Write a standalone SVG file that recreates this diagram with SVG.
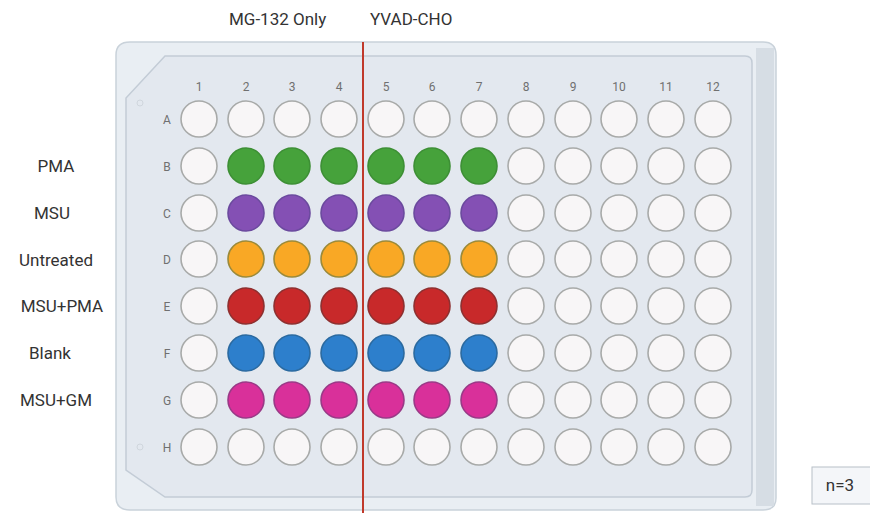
<svg xmlns="http://www.w3.org/2000/svg" width="870" height="513" viewBox="0 0 870 513">
<style>
.lbl{font-family:Roboto,"Liberation Sans",sans-serif;font-size:17px;fill:#333}
.idx{font-family:Roboto,"Liberation Sans",sans-serif;font-size:12px;fill:#707070;text-anchor:middle}
.w{fill:#f8f6f7;stroke:#a8aaa9;stroke-width:1.6}
.g{fill:#46a23b;stroke:#3d8f35;stroke-width:1.6}
.p{fill:#8450b4;stroke:#6b4a9e;stroke-width:1.6}
.o{fill:#f9a825;stroke:#9b8a3a;stroke-width:1.6}
.r{fill:#c8292a;stroke:#8e3030;stroke-width:1.6}
.b{fill:#2d7fcc;stroke:#2b6aa0;stroke-width:1.6}
.m{fill:#d9309a;stroke:#9a3a87;stroke-width:1.6}
</style>
<rect width="870" height="513" fill="#ffffff"/>
<g id="plate">
<path d="M130,42 H763 Q776,42 776,55 V498 Q776,510 763,510 H130 Q116,510 116,497 V55 Q116,42 130,42 Z" fill="#e9eef3" stroke="#c9d2da" stroke-width="1.5"/>
<rect x="756" y="48" width="18" height="458" fill="#d6dde4"/>
<path d="M165,56 H745 Q752,56 752,63 V490 Q752,497 745,497 H165 L126,470 V98 Z" fill="#e3e8ef" stroke="#c3ccd6" stroke-width="1.5"/>
<circle cx="140" cy="103" r="3" fill="none" stroke="#d0d6dd"/>
<circle cx="140" cy="447" r="3" fill="none" stroke="#d0d6dd"/>
</g>
<g id="col-labels">
<text class="idx" x="199" y="91">1</text><text class="idx" x="246" y="91">2</text><text class="idx" x="292" y="91">3</text><text class="idx" x="339" y="91">4</text><text class="idx" x="386" y="91">5</text><text class="idx" x="432" y="91">6</text><text class="idx" x="479" y="91">7</text><text class="idx" x="526" y="91">8</text><text class="idx" x="573" y="91">9</text><text class="idx" x="619" y="91">10</text><text class="idx" x="666" y="91">11</text><text class="idx" x="713" y="91">12</text>
</g>
<g id="row-labels">
<text class="idx" x="167" y="124">A</text><text class="idx" x="167" y="171">B</text><text class="idx" x="167" y="218">C</text><text class="idx" x="167" y="264">D</text><text class="idx" x="167" y="311">E</text><text class="idx" x="167" y="358">F</text><text class="idx" x="167" y="405">G</text><text class="idx" x="167" y="452">H</text>
</g>
<g id="wells">
<g id="row-A"><circle class="w" cx="199" cy="119" r="18"/><circle class="w" cx="246" cy="119" r="18"/><circle class="w" cx="292" cy="119" r="18"/><circle class="w" cx="339" cy="119" r="18"/><circle class="w" cx="386" cy="119" r="18"/><circle class="w" cx="432" cy="119" r="18"/><circle class="w" cx="479" cy="119" r="18"/><circle class="w" cx="526" cy="119" r="18"/><circle class="w" cx="573" cy="119" r="18"/><circle class="w" cx="619" cy="119" r="18"/><circle class="w" cx="666" cy="119" r="18"/><circle class="w" cx="713" cy="119" r="18"/></g>
<g id="row-B"><circle class="w" cx="199" cy="166" r="18"/><circle class="g" cx="246" cy="166" r="18"/><circle class="g" cx="292" cy="166" r="18"/><circle class="g" cx="339" cy="166" r="18"/><circle class="g" cx="386" cy="166" r="18"/><circle class="g" cx="432" cy="166" r="18"/><circle class="g" cx="479" cy="166" r="18"/><circle class="w" cx="526" cy="166" r="18"/><circle class="w" cx="573" cy="166" r="18"/><circle class="w" cx="619" cy="166" r="18"/><circle class="w" cx="666" cy="166" r="18"/><circle class="w" cx="713" cy="166" r="18"/></g>
<g id="row-C"><circle class="w" cx="199" cy="213" r="18"/><circle class="p" cx="246" cy="213" r="18"/><circle class="p" cx="292" cy="213" r="18"/><circle class="p" cx="339" cy="213" r="18"/><circle class="p" cx="386" cy="213" r="18"/><circle class="p" cx="432" cy="213" r="18"/><circle class="p" cx="479" cy="213" r="18"/><circle class="w" cx="526" cy="213" r="18"/><circle class="w" cx="573" cy="213" r="18"/><circle class="w" cx="619" cy="213" r="18"/><circle class="w" cx="666" cy="213" r="18"/><circle class="w" cx="713" cy="213" r="18"/></g>
<g id="row-D"><circle class="w" cx="199" cy="259" r="18"/><circle class="o" cx="246" cy="259" r="18"/><circle class="o" cx="292" cy="259" r="18"/><circle class="o" cx="339" cy="259" r="18"/><circle class="o" cx="386" cy="259" r="18"/><circle class="o" cx="432" cy="259" r="18"/><circle class="o" cx="479" cy="259" r="18"/><circle class="w" cx="526" cy="259" r="18"/><circle class="w" cx="573" cy="259" r="18"/><circle class="w" cx="619" cy="259" r="18"/><circle class="w" cx="666" cy="259" r="18"/><circle class="w" cx="713" cy="259" r="18"/></g>
<g id="row-E"><circle class="w" cx="199" cy="306" r="18"/><circle class="r" cx="246" cy="306" r="18"/><circle class="r" cx="292" cy="306" r="18"/><circle class="r" cx="339" cy="306" r="18"/><circle class="r" cx="386" cy="306" r="18"/><circle class="r" cx="432" cy="306" r="18"/><circle class="r" cx="479" cy="306" r="18"/><circle class="w" cx="526" cy="306" r="18"/><circle class="w" cx="573" cy="306" r="18"/><circle class="w" cx="619" cy="306" r="18"/><circle class="w" cx="666" cy="306" r="18"/><circle class="w" cx="713" cy="306" r="18"/></g>
<g id="row-F"><circle class="w" cx="199" cy="353" r="18"/><circle class="b" cx="246" cy="353" r="18"/><circle class="b" cx="292" cy="353" r="18"/><circle class="b" cx="339" cy="353" r="18"/><circle class="b" cx="386" cy="353" r="18"/><circle class="b" cx="432" cy="353" r="18"/><circle class="b" cx="479" cy="353" r="18"/><circle class="w" cx="526" cy="353" r="18"/><circle class="w" cx="573" cy="353" r="18"/><circle class="w" cx="619" cy="353" r="18"/><circle class="w" cx="666" cy="353" r="18"/><circle class="w" cx="713" cy="353" r="18"/></g>
<g id="row-G"><circle class="w" cx="199" cy="400" r="18"/><circle class="m" cx="246" cy="400" r="18"/><circle class="m" cx="292" cy="400" r="18"/><circle class="m" cx="339" cy="400" r="18"/><circle class="m" cx="386" cy="400" r="18"/><circle class="m" cx="432" cy="400" r="18"/><circle class="m" cx="479" cy="400" r="18"/><circle class="w" cx="526" cy="400" r="18"/><circle class="w" cx="573" cy="400" r="18"/><circle class="w" cx="619" cy="400" r="18"/><circle class="w" cx="666" cy="400" r="18"/><circle class="w" cx="713" cy="400" r="18"/></g>
<g id="row-H"><circle class="w" cx="199" cy="447" r="18"/><circle class="w" cx="246" cy="447" r="18"/><circle class="w" cx="292" cy="447" r="18"/><circle class="w" cx="339" cy="447" r="18"/><circle class="w" cx="386" cy="447" r="18"/><circle class="w" cx="432" cy="447" r="18"/><circle class="w" cx="479" cy="447" r="18"/><circle class="w" cx="526" cy="447" r="18"/><circle class="w" cx="573" cy="447" r="18"/><circle class="w" cx="619" cy="447" r="18"/><circle class="w" cx="666" cy="447" r="18"/><circle class="w" cx="713" cy="447" r="18"/></g>
</g>
<g id="divider">
<line x1="363" y1="42" x2="363" y2="513" stroke="#c0392b" stroke-width="2"/>
</g>
<g id="top-labels">
<text class="lbl" x="229" y="25">MG-132 Only</text>
<text class="lbl" x="370" y="25">YVAD-CHO</text>
</g>
<g id="treatments">
<text class="lbl" x="56" y="172" text-anchor="middle">PMA</text>
<text class="lbl" x="52" y="219" text-anchor="middle">MSU</text>
<text class="lbl" x="56" y="266" text-anchor="middle">Untreated</text>
<text class="lbl" x="62" y="312" text-anchor="middle">MSU+PMA</text>
<text class="lbl" x="50" y="359" text-anchor="middle">Blank</text>
<text class="lbl" x="56" y="406" text-anchor="middle">MSU+GM</text>
</g>
<g id="n-box">
<rect x="812" y="467" width="62" height="37" fill="#f4f6f9" stroke="#b8c0c8" stroke-width="1"/>
<text class="lbl" x="840" y="491" text-anchor="middle">n=3</text>
</g>
</svg>
